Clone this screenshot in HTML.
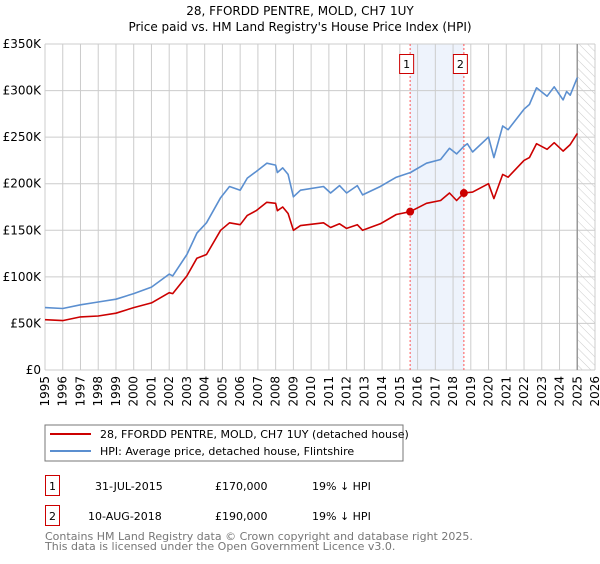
<!DOCTYPE html>
<html><head><meta charset="utf-8"><style>
body{margin:0;background:#fff;font-family:"DejaVu Sans","Liberation Sans",sans-serif;}
svg text{font-family:"DejaVu Sans","Liberation Sans",sans-serif;}
</style></head><body>
<svg id="c" width="600" height="560" xmlns="http://www.w3.org/2000/svg">
<defs><pattern id="hatch" width="6" height="6" patternUnits="userSpaceOnUse" patternTransform="rotate(-45)"><line x1="0" y1="0" x2="0" y2="6" stroke="#ccc" stroke-width="1"/></pattern></defs>
<text x="300" y="15" text-anchor="middle" font-size="12" fill="#000">28, FFORDD PENTRE, MOLD, CH7 1UY</text>
<text x="300" y="31" text-anchor="middle" font-size="12" fill="#000">Price paid vs. HM Land Registry's House Price Index (HPI)</text>
<g id="plot"></g>
<g>
<rect x="45" y="425" width="358" height="36" fill="#fff" stroke="#777"/>
<line x1="50" y1="434" x2="91" y2="434" stroke="#cc0000" stroke-width="2"/>
<text x="100" y="438" font-size="11">28, FFORDD PENTRE, MOLD, CH7 1UY (detached house)</text>
<line x1="50" y1="451" x2="91" y2="451" stroke="#5b8fd0" stroke-width="2"/>
<text x="100" y="455" font-size="11">HPI: Average price, detached house, Flintshire</text>
</g>
<g>
<rect x="45.5" y="475.5" width="14" height="20" fill="#fff" stroke="#cc0000"/>
<text x="52.5" y="490" font-size="11" text-anchor="middle">1</text>
<text x="95" y="490" font-size="11">31-JUL-2015</text>
<text x="215" y="490" font-size="11">£170,000</text>
<text x="312" y="490" font-size="11">19% ↓ HPI</text>
<rect x="45.5" y="505.5" width="14" height="20" fill="#fff" stroke="#cc0000"/>
<text x="52.5" y="520" font-size="11" text-anchor="middle">2</text>
<text x="88" y="520" font-size="11">10-AUG-2018</text>
<text x="215" y="520" font-size="11">£190,000</text>
<text x="312" y="520" font-size="11">19% ↓ HPI</text>
</g>
<text x="45" y="540" font-size="11" fill="#777">Contains HM Land Registry data © Crown copyright and database right 2025.</text>
<text x="45" y="550" font-size="11" fill="#777">This data is licensed under the Open Government Licence v3.0.</text>
</svg>
<script>
const hpiYears=[1995,1996,1997,1998,1999,2000,2001,2002,2002.2,2003,2003.56,2004.1,2004.9,2005.4,2006,2006.4,2006.9,2007.5,2008,2008.1,2008.4,2008.7,2009,2009.4,2010.7,2011.1,2011.6,2012,2012.6,2012.9,2013.9,2014.8,2015.6,2016.5,2017.3,2017.8,2018.2,2018.6,2018.8,2019.1,2020,2020.3,2020.8,2021.1,2022,2022.3,2022.7,2023.3,2023.7,2024.2,2024.4,2024.6,2025];
const hpiValues=[67,66,70,73,76,82,89,103,101,124,147,158,185,197,193,206,213,222,220,212,217,210,186,193,197,190,198,190,198,188,197,207,212,222,226,238,232,240,243,234,250,228,262,258,280,285,303,294,304,290,299,295,314];
const priceYears=[1995,1996,1997,1998,1999,2000,2001,2002,2002.2,2003,2003.56,2004.1,2004.9,2005.4,2006,2006.4,2006.9,2007.5,2008,2008.1,2008.4,2008.7,2009,2009.4,2010.7,2011.1,2011.6,2012,2012.6,2012.9,2013.9,2014.8,2015.58,2016.5,2017.3,2017.8,2018.2,2018.61,2019.1,2020,2020.3,2020.8,2021.1,2022,2022.3,2022.7,2023.3,2023.7,2024.2,2024.6,2025];
const priceValues=[54,53,57,58,61,67,72,83,82,101,120,124,150,158,156,166,171,180,179,171,175,168,150,155,158,153,157,152,156,150,157,167,170,179,182,190,182,190,191,200,184,210,207,225,228,243,237,244,235,242,254];
const saleYears=[2015.58,2018.61];
const saleValues=[170,190];
const saleLabels=["1","2"];
const yTicks=[0,50,100,150,200,250,300,350];
const yTickLabels=["£0","£50K","£100K","£150K","£200K","£250K","£300K","£350K"];
const xTicks=[1995,1996,1997,1998,1999,2000,2001,2002,2003,2004,2005,2006,2007,2008,2009,2010,2011,2012,2013,2014,2015,2016,2017,2018,2019,2020,2021,2022,2023,2024,2025,2026];
const NS="http://www.w3.org/2000/svg";
const X0=45,X1=595,Y0=370,Y1=44,XMIN=1995,XMAX=2026,YMAX=350;
const xs=v=>X0+(v-XMIN)/(XMAX-XMIN)*(X1-X0);
const ys=v=>Y0-v/YMAX*(Y0-Y1);
const g=document.getElementById('plot');
function mk(t,a){const e=document.createElementNS(NS,t);for(const k in a)e.setAttribute(k,a[k]);g.appendChild(e);return e;}
// shaded band
const band=mk('rect',{x:xs(saleYears[0]),y:Y1,width:xs(saleYears[1])-xs(saleYears[0]),height:Y0-Y1,fill:'#eef3fc'});


// hatch
const hat=mk('rect',{x:xs(2025),y:Y1,width:X1-xs(2025),height:Y0-Y1,fill:'url(#hatch)'});


yTicks.forEach((t,i)=>{
  const l=mk('line',{x1:X0,x2:X1,y1:ys(t),y2:ys(t),stroke:'#ccc','stroke-width':1});
  
  
  const tx=mk('text',{x:X0-4,y:ys(t)+4,'text-anchor':'end','font-size':12});
  tx.textContent=yTickLabels[i];
  
  
});
xTicks.forEach(t=>{
  const l=mk('line',{x1:xs(t),x2:xs(t),y1:Y1,y2:Y0,stroke:'#ccc','stroke-width':1});
  
  
  const tx=mk('text',{x:0,y:0,'text-anchor':'end','font-size':12,transform:`translate(${xs(t)+4},${Y0+6}) rotate(-90)`});
  tx.textContent=t;
  
  
});
const edge=mk('line',{x1:xs(2025),x2:xs(2025),y1:Y1,y2:Y0,stroke:'#999','stroke-width':1.5});


saleYears.forEach((s,i)=>{
  const l=mk('line',{x1:xs(s),x2:xs(s),y1:Y1,y2:Y0,stroke:'#ff5555','stroke-width':1,'stroke-dasharray':'2,2'});
  
  
  const b=mk('rect',{x:xs(s)-10.5,y:54.5,width:14,height:19,fill:'#fff',stroke:'#cc0000'});
  
  
  const t=mk('text',{x:xs(s)-3.5,y:68,'text-anchor':'middle','font-size':11});
  t.textContent=saleLabels[i];
  
  
});
function path(xa,va,col,name){
  const d=xa.map((x,i)=>(i?'L':'M')+xs(x).toFixed(1)+','+ys(va[i]).toFixed(1)).join('');
  const p=mk('path',{d:d,fill:'none',stroke:col,'stroke-width':1.6,'stroke-linejoin':'round'});
  
  
}
path(hpiYears,hpiValues,'#5b8fd0','hpi-line');
path(priceYears,priceValues,'#cc0000','price-line');
saleYears.forEach((s,i)=>{
  const c=mk('circle',{cx:xs(s),cy:ys(saleValues[i]),r:4,fill:'#cc0000'});
  
  
});
</script>
</body></html>
